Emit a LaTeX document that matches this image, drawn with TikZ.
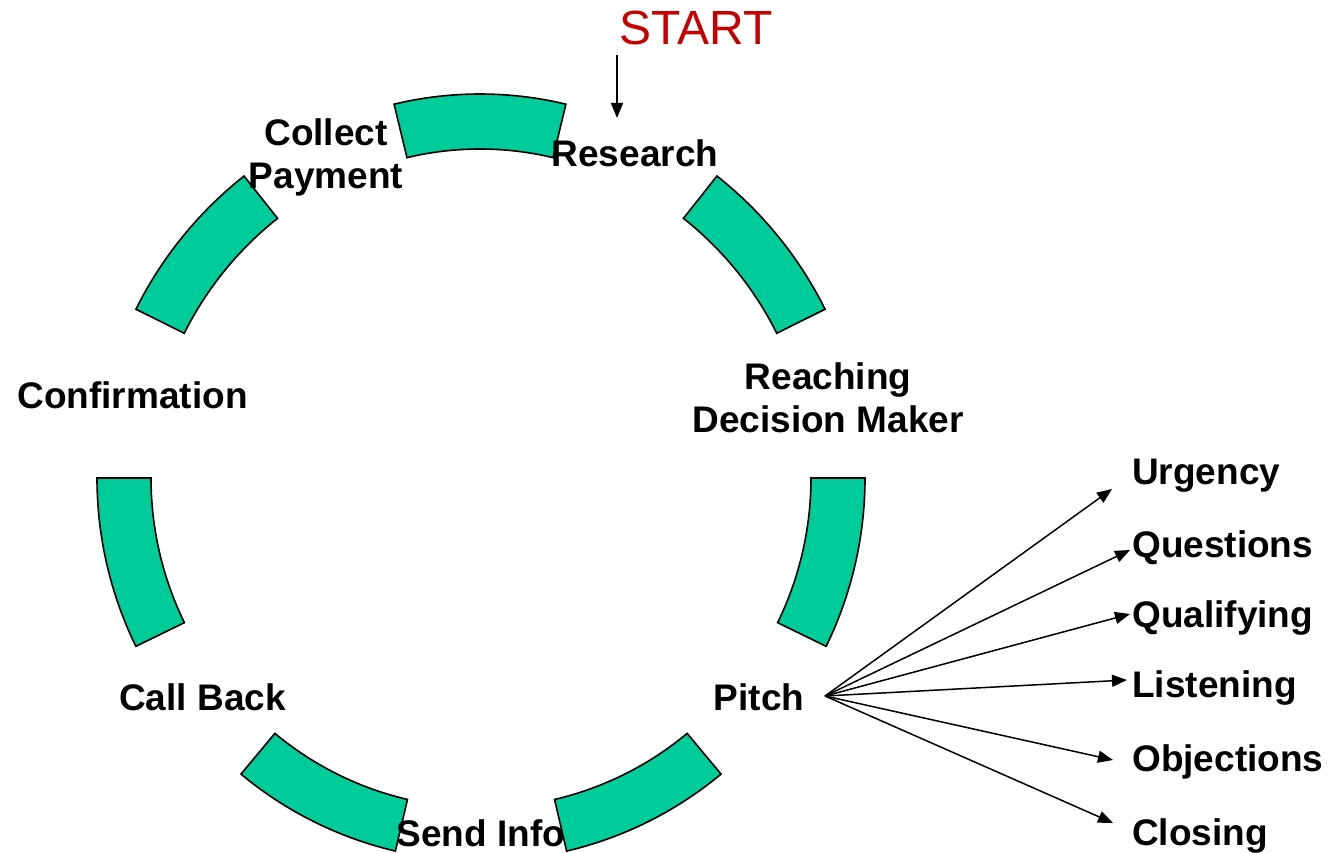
\documentclass[tikz,border=0pt]{standalone}
\usepackage{fontspec}
\setmainfont{Liberation Sans}
\usetikzlibrary{arrows.meta}
\definecolor{segfill}{RGB}{0,204,153}
\definecolor{startred}{RGB}{196,0,0}
\newcommand{\ringseg}[6]{% cx, cy, a1, a2, R, r
  \draw[segstyle] (#1,#2) ++(#3:#5) arc[start angle=#3, end angle=#4, radius=#5]
    -- ++(#4+180:#5-#6) arc[start angle=#4, end angle=#3, radius=#6] -- cycle;}
\begin{document}
\begin{tikzpicture}[x=1pt,y=1pt,
  segstyle/.style={fill=segfill, draw=black, line width=1.6pt, line join=miter},
  lbl/.style={font=\fontsize{37}{43}\selectfont\bfseries, inner sep=0pt, align=center},
  rlbl/.style={font=\fontsize{37}{43}\selectfont\bfseries, inner sep=0pt, anchor=base west},
  arr/.style={draw=black, line width=1.5pt, -{Triangle[length=15pt,width=12pt]}}]
\useasboundingbox (0,0) rectangle (1332,852);
% ring segments
\ringseg{480}{390}{76.5}{103.5}{368}{313}
\ringseg{472.5}{367}{26.5}{51.65}{394}{340}
\ringseg{481}{374}{-26}{0}{384}{330}
\ringseg{481}{366}{283.2}{309.8}{375}{322}
\ringseg{481}{366}{230.2}{256.8}{375}{322}
\ringseg{481}{374}{180}{206}{384}{330}
\ringseg{488.5}{367}{128.35}{153.5}{394}{340}
% labels
\node[inner sep=0pt, anchor=base, text=startred, font=\fontsize{48}{56}\selectfont] (start) at (696,807) {START};
\node[lbl, anchor=base] (research) at (635,685) {Research};
\node[lbl, anchor=base] (collect) at (326,663) {Collect\\Payment};
\node[lbl, anchor=base] (reaching) at (828,419) {Reaching\\Decision Maker};
\node[lbl, anchor=base] (confirm) at (132.5,443) {Confirmation};
\node[lbl, anchor=base] (callback) at (202.5,142) {Call Back};
\node[lbl, anchor=base] (pitch) at (759,142) {Pitch};
\node[lbl, anchor=base] (sendinfo) at (481,6) {Send Info};
\node[rlbl] (urgency) at (1132,367) {Urgency};
\node[rlbl] (questions) at (1132,295) {Questions};
\node[rlbl] (qualifying) at (1132,225) {Qualifying};
\node[rlbl] (listening) at (1132,155) {Listening};
\node[rlbl] (objections) at (1132,81) {Objections};
\node[rlbl] (closing) at (1132,7) {Closing};
% start arrow
\coordinate (s1) at (617,797);
\coordinate (s2) at (617,734);
\draw[arr] (s1) -- (s2);
% pitch fan
\coordinate (p0) at (825,156);
\coordinate (tU) at (1112,363);
\coordinate (tQ) at (1130,302);
\coordinate (tQa) at (1130,238);
\coordinate (tL) at (1127,172);
\coordinate (tO) at (1113,92);
\coordinate (tC) at (1113,29);
\draw[arr] (p0) -- (tU);
\draw[arr] (p0) -- (tQ);
\draw[arr] (p0) -- (tQa);
\draw[arr] (p0) -- (tL);
\draw[arr] (p0) -- (tO);
\draw[arr] (p0) -- (tC);
\end{tikzpicture}
\end{document}
